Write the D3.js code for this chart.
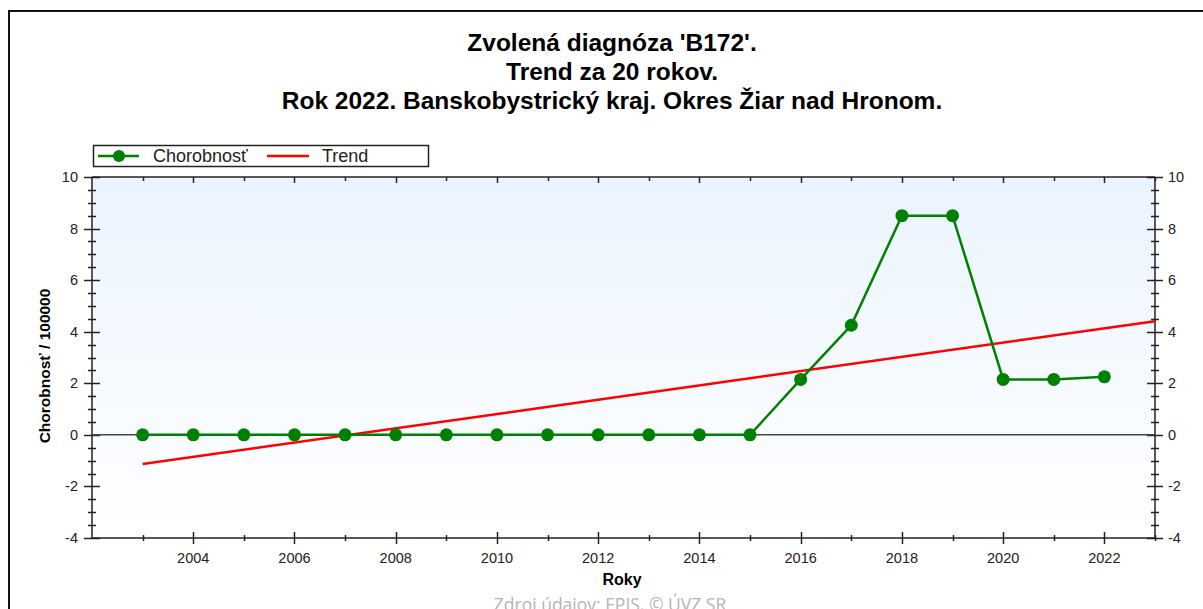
<!DOCTYPE html>
<html>
<head>
<meta charset="utf-8">
<script src="https://cdn.jsdelivr.net/npm/d3@7"></script>
<style>
  body { margin: 0; background: #fff; }
  svg { display: block; font-family: Arial, "Liberation Sans", sans-serif; }
</style>
</head>
<body>
<div id="chart"></div>
<script>
// data
var years = [2003, 2004, 2005, 2006, 2007, 2008, 2009, 2010, 2011, 2012,
             2013, 2014, 2015, 2016, 2017, 2018, 2019, 2020, 2021, 2022];
var chorobnost = [0, 0, 0, 0, 0, 0, 0, 0, 0, 0,
                  0, 0, 0, 2.15, 4.25, 8.5, 8.5, 2.15, 2.15, 2.25];
var trendYears = [2003, 2023];
var trendValues = [-1.13, 4.41];
var titleLines = ["Zvolená diagnóza 'B172'.", "Trend za 20 rokov.",
                  "Rok 2022. Banskobystrický kraj. Okres Žiar nad Hronom."];
var yTicks = [-4, -2, 0, 2, 4, 6, 8, 10];
var xTicks = [2004, 2006, 2008, 2010, 2012, 2014, 2016, 2018, 2020, 2022];

var W = 1203, H = 609;
var plot = { left: 92, right: 1155, top: 177, bottom: 538 };

var svg = d3.select("#chart").append("svg")
  .attr("width", W).attr("height", H);

// outer frame
svg.append("path")
  .attr("d", "M9," + (H + 5) + "V11H" + (W + 5))
  .attr("fill", "none").attr("stroke", "#111").attr("stroke-width", 2);

var defs = svg.append("defs");
var grad = defs.append("linearGradient").attr("id", "bg")
  .attr("x1", 0).attr("y1", 0).attr("x2", 0).attr("y2", 1);
grad.append("stop").attr("offset", "0%").attr("stop-color", "#eaf4fe");
grad.append("stop").attr("offset", "100%").attr("stop-color", "#ffffff");

var x = d3.scaleLinear().domain([2002, 2023]).range([plot.left, plot.right]);
var y = d3.scaleLinear().domain([-4, 10]).range([plot.bottom, plot.top]);

svg.append("rect")
  .attr("x", plot.left).attr("y", plot.top)
  .attr("width", plot.right - plot.left).attr("height", plot.bottom - plot.top)
  .attr("fill", "url(#bg)");

// title
svg.append("g").selectAll("text").data(titleLines).enter().append("text")
  .attr("x", 612).attr("y", function(d, i) { return 51 + i * 29; })
  .attr("text-anchor", "middle")
  .attr("font-size", 24.5).attr("font-weight", "bold").attr("fill", "#000")
  .text(function(d) { return d; });

// axes
var minorY = d3.range(-4, 10.01, 0.5);
var minorX = d3.range(2003, 2024, 1);

function yAxisGroup(xpos, side) {
  var g = svg.append("g");
  g.append("line").attr("x1", xpos).attr("x2", xpos)
    .attr("y1", plot.top).attr("y2", plot.bottom)
    .attr("stroke", "#222").attr("stroke-width", 1.5);
  g.selectAll(".mn").data(minorY).enter().append("line")
    .attr("x1", function(d) { return xpos - (d % 2 === 0 ? 8 : 4); })
    .attr("x2", function(d) { return xpos + (d % 2 === 0 ? 8 : 4); })
    .attr("y1", function(d) { return Math.round(y(d)) + 0.5; })
    .attr("y2", function(d) { return Math.round(y(d)) + 0.5; })
    .attr("stroke", "#222").attr("stroke-width", 1.5);
  g.selectAll("text").data(yTicks).enter().append("text")
    .attr("x", side < 0 ? xpos - 14 : xpos + 13)
    .attr("y", function(d) { return y(d) + 5; })
    .attr("text-anchor", side < 0 ? "end" : "start")
    .attr("font-size", 14.5).attr("fill", "#222")
    .text(function(d) { return d; });
}
yAxisGroup(plot.left, -1);
yAxisGroup(plot.right, 1);

// bottom + top x axis
function xAxisGroup(ypos, labels) {
  var g = svg.append("g");
  g.append("line").attr("x1", plot.left).attr("x2", plot.right)
    .attr("y1", ypos).attr("y2", ypos)
    .attr("stroke", "#222").attr("stroke-width", 1.5);
  g.selectAll("line.t").data(minorX).enter().append("line")
    .attr("class", "t")
    .attr("x1", function(d) { return Math.round(x(d)) + 0.5; })
    .attr("x2", function(d) { return Math.round(x(d)) + 0.5; })
    .attr("y1", function(d) { return labels ? ypos - (d % 2 === 0 ? 6 : 3) : ypos; })
    .attr("y2", function(d) { return labels ? ypos + (d % 2 === 0 ? 6 : 3) : ypos + (d % 2 === 0 ? 6 : 4); })
    .attr("stroke", "#222").attr("stroke-width", 1.5);
  if (labels) {
    g.selectAll("text").data(xTicks).enter().append("text")
      .attr("x", function(d) { return x(d); })
      .attr("y", ypos + 25)
      .attr("text-anchor", "middle")
      .attr("font-size", 14.5).attr("fill", "#222")
      .text(function(d) { return d; });
  }
}
xAxisGroup(plot.top, false);
xAxisGroup(plot.bottom, true);

// zero line
svg.append("line")
  .attr("x1", plot.left).attr("x2", plot.right)
  .attr("y1", y(0)).attr("y2", y(0))
  .attr("stroke", "#444").attr("stroke-width", 1.5);

// axis titles
svg.append("text")
  .attr("transform", "translate(50,366) rotate(-90)")
  .attr("text-anchor", "middle").attr("font-size", 15.5).attr("font-weight", "bold")
  .text("Chorobnosť / 100000");
svg.append("text")
  .attr("x", 622).attr("y", 585).attr("text-anchor", "middle")
  .attr("font-size", 16).attr("font-weight", "bold")
  .text("Roky");

// footer (cut off at the bottom edge, as in the original)
svg.append("text")
  .attr("x", 610).attr("y", 611).attr("text-anchor", "middle")
  .attr("font-family", "'Open Sans', sans-serif")
  .attr("font-size", 17.5).attr("fill", "#b4b4b4")
  .text("Zdroj údajov: EPIS, © ÚVZ SR");

// trend
var line = d3.line().x(function(d) { return x(d[0]); }).y(function(d) { return y(d[1]); });
svg.append("path")
  .attr("d", line(d3.zip(trendYears, trendValues)))
  .attr("fill", "none").attr("stroke", "#ff0000").attr("stroke-width", 2.5);

// chorobnost series
var pts = d3.zip(years, chorobnost);
svg.append("path")
  .attr("d", line(pts))
  .attr("fill", "none").attr("stroke", "#008000").attr("stroke-width", 2.5);
svg.append("g").selectAll("circle").data(pts).enter().append("circle")
  .attr("cx", function(d) { return x(d[0]); })
  .attr("cy", function(d) { return y(d[1]); })
  .attr("r", 6.5).attr("fill", "#008000");

// legend
var lg = svg.append("g");
lg.append("rect").attr("x", 93.5).attr("y", 145.5).attr("width", 335).attr("height", 21)
  .attr("fill", "#fff").attr("stroke", "#222").attr("stroke-width", 1.5);
lg.append("line").attr("x1", 98).attr("x2", 139).attr("y1", 156).attr("y2", 156)
  .attr("stroke", "#008000").attr("stroke-width", 2.5);
lg.append("circle").attr("cx", 119).attr("cy", 156).attr("r", 6).attr("fill", "#008000");
lg.append("text").attr("x", 153).attr("y", 162).attr("font-size", 18).attr("fill", "#222")
  .text("Chorobnosť");
lg.append("line").attr("x1", 267).attr("x2", 309).attr("y1", 156).attr("y2", 156)
  .attr("stroke", "#ff0000").attr("stroke-width", 2.5);
lg.append("text").attr("x", 322).attr("y", 162).attr("font-size", 18).attr("fill", "#222")
  .text("Trend");
</script>
</body>
</html>
